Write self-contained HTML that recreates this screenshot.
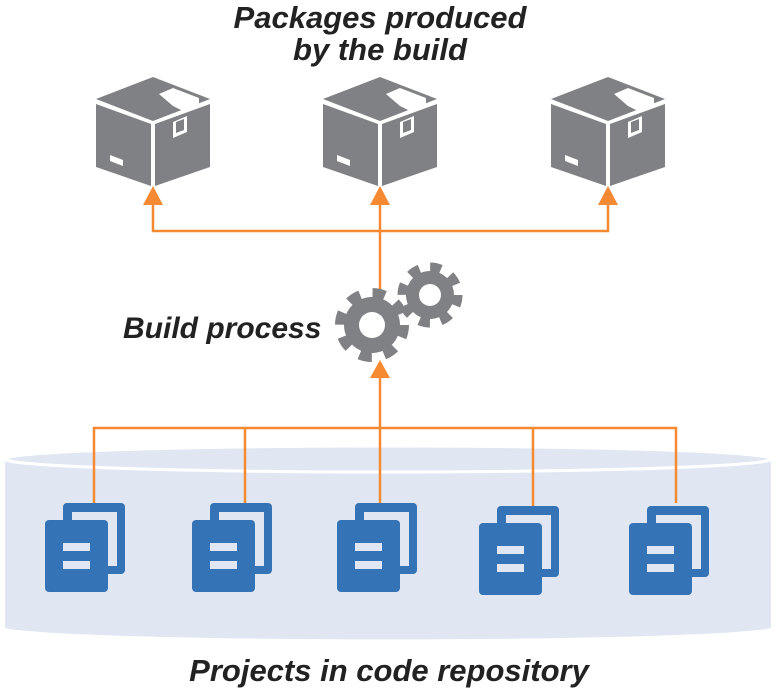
<!DOCTYPE html>
<html><head><meta charset="utf-8"><style>
html,body{margin:0;padding:0;background:#fff;}
svg{display:block}
text{font-family:"Liberation Sans",sans-serif;font-style:italic;font-weight:bold;fill:#222;}
</style></head><body>
<svg width="777" height="693" viewBox="0 0 777 693" xmlns="http://www.w3.org/2000/svg">
<defs>
<g id="box">
  <polygon points="0,-1 57,21 0,43 -57,21" fill="#808184"/>
  <polygon points="-57,26 -2,46 -2,108 -57,89" fill="#808184"/>
  <polygon points="2,46 57,26 57,89 2,108" fill="#808184"/>
  <polygon points="6,16 20,10 46,20 46,28 32,34 20,28" fill="#fff"/>
  <polygon points="20,44 34,38 34,54 20,60" fill="#fff"/>
  <polygon points="23,44 31,41 31,52 23,55" fill="#808184"/>
  <polygon points="-43,77 -30,82 -30,88 -43,83" fill="#fff"/>
</g>
<g id="doc">
  <rect x="18" y="-17" width="62" height="71" rx="4" fill="#3373b6"/>
  <rect x="27" y="-8" width="45" height="54" fill="#e0e7f2"/>
  <rect x="0" y="0" width="63" height="72" rx="4" fill="#3373b6"/>
  <rect x="18" y="23" width="27" height="8" fill="#e0e7f2"/>
  <rect x="18" y="41" width="27" height="8" fill="#e0e7f2"/>
</g>
</defs>
<text x="380" y="28" font-size="31" text-anchor="middle">Packages produced</text>
<text x="380" y="60" font-size="31" text-anchor="middle">by the build</text>
<use href="#box" x="153" y="78"/>
<use href="#box" x="380" y="78"/>
<use href="#box" x="608" y="78"/>
<g stroke="#f58a33" stroke-width="2.5" fill="none">
  <polyline points="153,200 153,231 608,231 608,200"/>
  <line x1="380" y1="200" x2="380" y2="300"/>
</g>
<g fill="#f58a33">
  <polygon points="153,186 143,205 163,205"/>
  <polygon points="380,186 370,205 390,205"/>
  <polygon points="608,186 598,205 618,205"/>
</g>
<g>
  <circle cx="430" cy="295" r="24" fill="#808184"/>
  <circle cx="430" cy="295" r="27" fill="none" stroke="#808184" stroke-width="11" stroke-dasharray="10.6 10.6"/>
  <circle cx="430" cy="295" r="11" fill="#fff"/>
  <circle cx="372" cy="325" r="28" fill="#808184"/>
  <circle cx="372" cy="325" r="31" fill="none" stroke="#808184" stroke-width="12" stroke-dasharray="12.2 12.2"/>
  <circle cx="372" cy="325" r="13" fill="#fff"/>
</g>
<text x="123" y="338" font-size="30">Build process</text>
<path d="M5,460 L5,628 A386,13 0 0 0 771,628 L771,460 Z" fill="#e0e7f2"/>
<ellipse cx="388" cy="459" rx="383" ry="13" fill="#e0e7f2" stroke="#fff" stroke-width="3"/>
<g stroke="#f58a33" stroke-width="2.5" fill="none">
  <polyline points="94,503 94,428 676,428 676,503"/>
  <line x1="245" y1="428" x2="245" y2="503"/>
  <line x1="533" y1="428" x2="533" y2="506"/>
  <line x1="380" y1="378" x2="380" y2="503"/>
</g>
<polygon points="380,360 370,378 390,378" fill="#f58a33"/>
<use href="#doc" x="45" y="520"/>
<use href="#doc" x="192" y="520"/>
<use href="#doc" x="337" y="520"/>
<use href="#doc" x="479" y="523"/>
<use href="#doc" x="629" y="523"/>
<text x="389" y="681" font-size="31" text-anchor="middle">Projects in code repository</text>
</svg>
</body></html>
